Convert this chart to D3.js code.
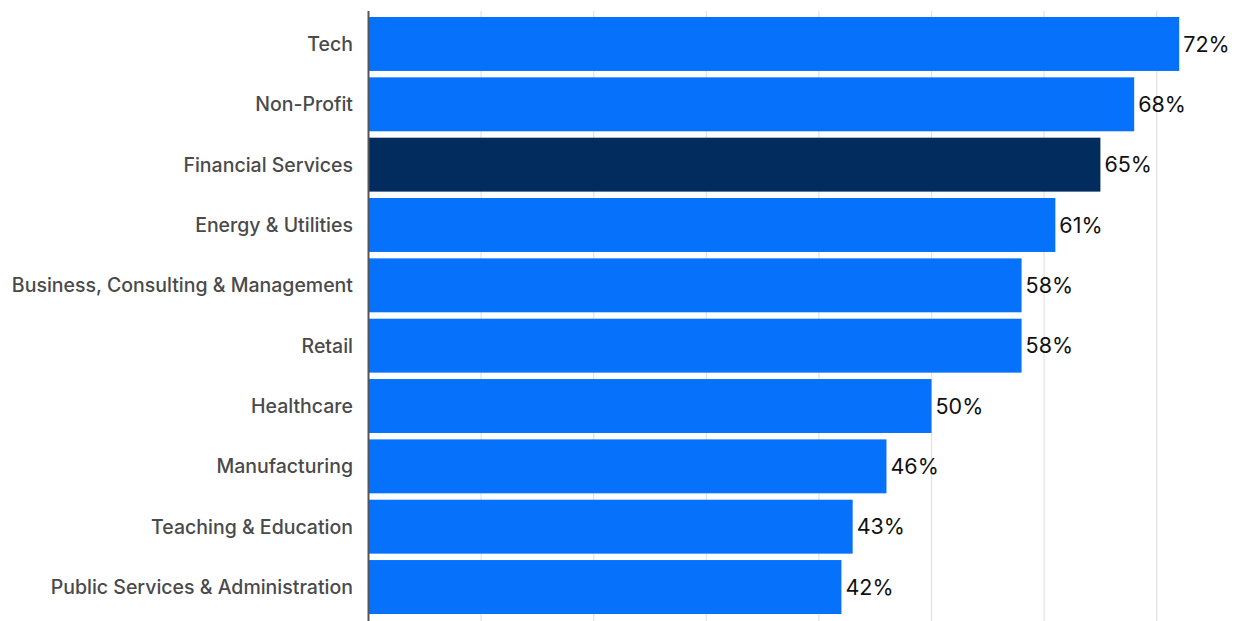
<!DOCTYPE html>
<style>
  html, body { margin:0; background:#fff; overflow:hidden; }
  text { font-family: Inter, "Noto Sans", sans-serif; }
</style>
<svg width="1234" height="621"></svg>
<script src="https://d3js.org/d3.v7.min.js"></script>
<script>

var categories = ["Tech", "Non-Profit", "Financial Services", "Energy & Utilities",
  "Business, Consulting & Management", "Retail", "Healthcare", "Manufacturing",
  "Teaching & Education", "Public Services & Administration"];
var values = [72, 68, 65, 61, 58, 58, 50, 46, 43, 42];
var highlight = ["Financial Services"];
var gridTicks = [10, 20, 30, 40, 50, 60, 70];

var svg = d3.select("svg"),
    x0 = 368.5;

var x = d3.scaleLinear().domain([0, 10]).range([x0, x0 + 112.6]);
var y = d3.scaleBand().domain(categories).range([17, 614]).paddingInner(0.106).paddingOuter(0);

svg.append("g")
  .selectAll("line")
  .data(gridTicks)
  .enter().append("line")
    .attr("x1", function(d) { return x(d); })
    .attr("x2", function(d) { return x(d); })
    .attr("y1", 11).attr("y2", 621)
    .attr("stroke", "#e2e2e2")
    .attr("stroke-width", 1.2);

svg.append("g")
  .selectAll("rect")
  .data(categories)
  .enter().append("rect")
    .attr("x", x0)
    .attr("y", function(d) { return y(d); })
    .attr("height", y.bandwidth())
    .attr("width", function(d, i) { return x(values[i]) - x0; })
    .attr("fill", function(d) { return highlight.indexOf(d) >= 0 ? "#032c5e" : "#0671fb"; });

svg.append("line")
    .attr("x1", x0).attr("x2", x0)
    .attr("y1", 11).attr("y2", 621)
    .attr("stroke", "#555")
    .attr("stroke-width", 2);

svg.append("g")
  .selectAll("text")
  .data(categories)
  .enter().append("text")
    .attr("x", 353)
    .attr("y", function(d) { return y(d) + y.bandwidth() / 2; })
    .attr("dy", "0.36em")
    .attr("text-anchor", "end")
    .attr("fill", "#4a4a4a")
    .style("font-size", "19.5px")
    .style("font-weight", 500)
    .text(function(d) { return d; });

svg.append("g")
  .selectAll("text")
  .data(categories)
  .enter().append("text")
    .attr("x", function(d, i) { return x(values[i]) + 4; })
    .attr("y", function(d) { return y(d) + y.bandwidth() / 2; })
    .attr("dy", "0.36em")
    .attr("fill", "#111")
    .style("font-size", "21.5px")
    .text(function(d, i) { return values[i] + "%"; });

</script>
